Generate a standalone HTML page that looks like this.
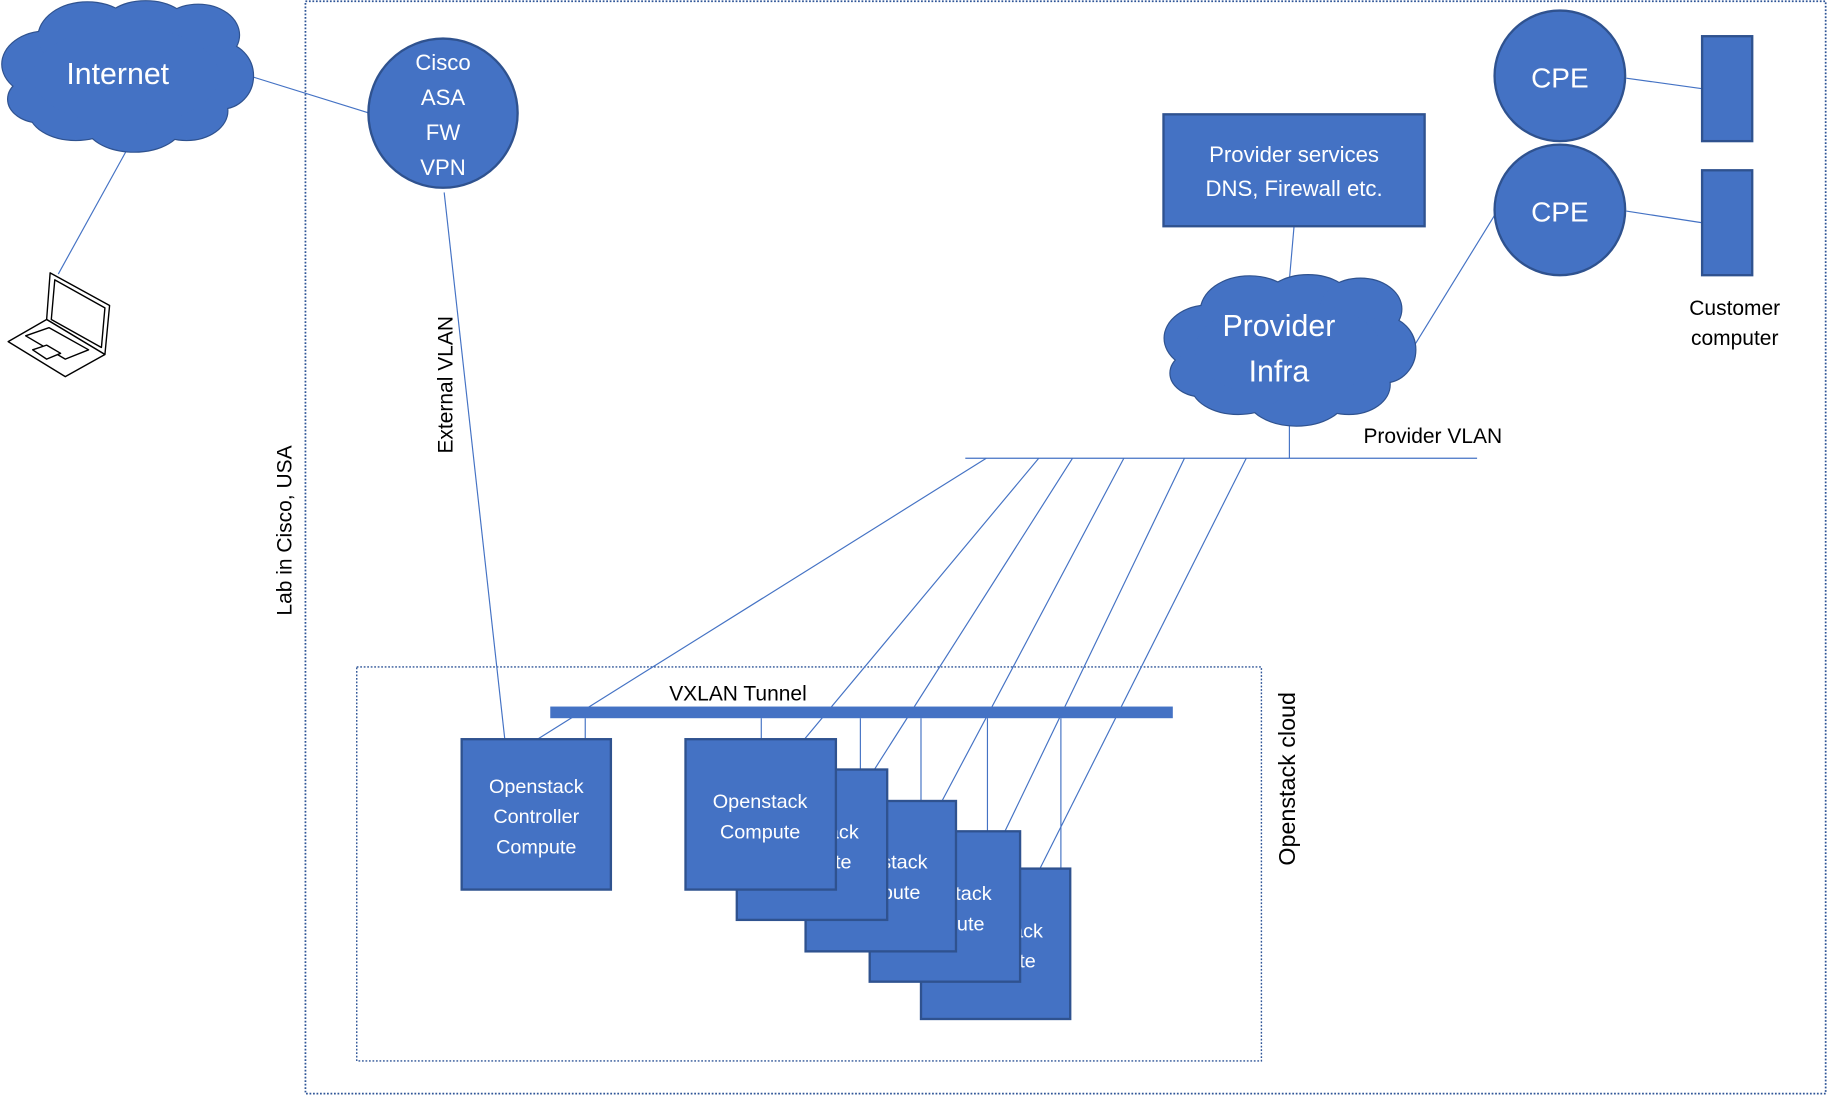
<!DOCTYPE html>
<html><head><meta charset="utf-8"><style>
html,body{margin:0;padding:0;background:#fff;}
svg{display:block;}
text{font-family:"Liberation Sans",sans-serif;}
</style></head><body>
<svg width="1828" height="1096" viewBox="0 0 1568 940" xmlns="http://www.w3.org/2000/svg">
<defs>
<g id="cloud">
<ellipse cx="40" cy="55" rx="38" ry="28"/>
<ellipse cx="75" cy="32" rx="42" ry="30"/>
<ellipse cx="125" cy="25" rx="38" ry="24"/>
<ellipse cx="170" cy="30" rx="35" ry="26"/>
<ellipse cx="190" cy="65" rx="27" ry="28"/>
<ellipse cx="160" cy="95" rx="35" ry="25"/>
<ellipse cx="115" cy="105" rx="42" ry="25"/>
<ellipse cx="65" cy="95" rx="40" ry="25"/>
<ellipse cx="35" cy="85" rx="28" ry="20"/>
<ellipse cx="108" cy="65" rx="80" ry="42"/>
</g>
</defs>
<rect x="262" y="1" width="1304" height="937" fill="none" stroke="#2F5597" stroke-width="1.5" stroke-dasharray="1.5,1.5"/>
<rect x="306" y="572" width="776" height="338" fill="none" stroke="#2F5597" stroke-width="1.2" stroke-dasharray="1.5,1.5"/>

<g stroke="#4472C4" stroke-width="1" fill="none">
<line x1="217" y1="66" x2="317" y2="97"/>
<line x1="108" y1="130" x2="50" y2="235"/>
<line x1="381" y1="165" x2="433" y2="634"/>
<line x1="1110" y1="194" x2="1106" y2="240"/>
<line x1="1214" y1="295" x2="1283" y2="183"/>
<line x1="1395" y1="67" x2="1460" y2="76"/>
<line x1="1395" y1="181" x2="1460" y2="191"/>
<line x1="1106" y1="365" x2="1106" y2="393"/>
<line x1="828" y1="393" x2="1267" y2="393"/>
<line x1="846" y1="393" x2="461" y2="634"/>
<line x1="891" y1="393" x2="690" y2="634"/>
<line x1="920" y1="393" x2="750" y2="660"/>
<line x1="964" y1="393" x2="808" y2="687"/>
<line x1="1016" y1="393" x2="862" y2="713"/>
<line x1="1069" y1="393" x2="892" y2="745"/>
<line x1="502" y1="616" x2="502" y2="634"/>
<line x1="653" y1="616" x2="653" y2="634"/>
<line x1="738" y1="616" x2="738" y2="660"/>
<line x1="790" y1="616" x2="790" y2="687"/>
<line x1="847" y1="616" x2="847" y2="713"/>
<line x1="910" y1="616" x2="910" y2="745"/>
</g>

<g>
<use href="#cloud" fill="#4472C4" stroke="#2F528F" stroke-width="2"/>
<use href="#cloud" fill="#4472C4" stroke="none"/>
<text x="101" y="72" font-size="26" fill="#fff" text-anchor="middle">Internet</text>
</g>
<g transform="translate(997,235)">
<use href="#cloud" fill="#4472C4" stroke="#2F528F" stroke-width="2"/>
<use href="#cloud" fill="#4472C4" stroke="none"/>
<text x="100" y="53" font-size="26" fill="#fff" text-anchor="middle">Provider</text>
<text x="100" y="92" font-size="26" fill="#fff" text-anchor="middle">Infra</text>
</g>

<!-- laptop -->
<g fill="#fff" stroke="#000" stroke-width="1.2" stroke-linejoin="round">
<polygon points="43,234 94,262 90,304 40,274"/>
<polygon points="47,240 90,264 87,298 44,274"/>
<polygon points="40,274 90,304 56,323 7,293"/>
<polygon points="22,288 42,281 76,300 56,308"/>
<polygon points="28,300 40,296 52,303 40,308"/>
</g>

<circle cx="380" cy="97" r="64" fill="#4472C4" stroke="#2F528F" stroke-width="2"/>
<g font-size="19" fill="#fff" text-anchor="middle">
<text x="380" y="60">Cisco</text><text x="380" y="90">ASA</text><text x="380" y="120">FW</text><text x="380" y="150">VPN</text>
</g>

<rect x="998" y="98" width="224" height="96" fill="#4472C4" stroke="#2F528F" stroke-width="2"/>
<text x="1110" y="139" font-size="19" fill="#fff" text-anchor="middle">Provider services</text>
<text x="1110" y="168" font-size="19" fill="#fff" text-anchor="middle">DNS, Firewall etc.</text>

<circle cx="1338" cy="65" r="56" fill="#4472C4" stroke="#2F528F" stroke-width="2"/>
<text x="1338" y="75" font-size="24" fill="#fff" text-anchor="middle">CPE</text>
<circle cx="1338" cy="180" r="56" fill="#4472C4" stroke="#2F528F" stroke-width="2"/>
<text x="1338" y="190" font-size="24" fill="#fff" text-anchor="middle">CPE</text>
<rect x="1460" y="31" width="43" height="90" fill="#4472C4" stroke="#2F528F" stroke-width="2"/>
<rect x="1460" y="146" width="43" height="90" fill="#4472C4" stroke="#2F528F" stroke-width="2"/>
<text x="1488" y="270" font-size="18" fill="#000" text-anchor="middle">Customer</text>
<text x="1488" y="296" font-size="18" fill="#000" text-anchor="middle">computer</text>

<text x="1229" y="380" font-size="18" fill="#000" text-anchor="middle">Provider VLAN</text>
<text transform="translate(388,330) rotate(-90)" font-size="18" fill="#000" text-anchor="middle">External VLAN</text>
<text transform="translate(250,455) rotate(-90)" font-size="18" fill="#000" text-anchor="middle">Lab in Cisco, USA</text>
<text transform="translate(1111,668) rotate(-90)" font-size="20" fill="#000" text-anchor="middle">Openstack cloud</text>

<rect x="472" y="606" width="534" height="10" fill="#4472C4"/>
<text x="633" y="601" font-size="18" fill="#000" text-anchor="middle">VXLAN Tunnel</text>

<rect x="396" y="634" width="128" height="129" fill="#4472C4" stroke="#2F528F" stroke-width="2"/>
<g font-size="17" fill="#fff" text-anchor="middle">
<text x="460" y="680">Openstack</text><text x="460" y="706">Controller</text><text x="460" y="732">Compute</text>
</g>

<rect x="790" y="745" width="128" height="129" fill="#4472C4" stroke="#2F528F" stroke-width="2"/>
<g font-size="17" fill="#fff" text-anchor="middle"><text x="854" y="804">Openstack</text><text x="854" y="830">Compute</text></g>
<rect x="746" y="713" width="129" height="129" fill="#4472C4" stroke="#2F528F" stroke-width="2"/>
<g font-size="17" fill="#fff" text-anchor="middle"><text x="810" y="772">Openstack</text><text x="810" y="798">Compute</text></g>
<rect x="691" y="687" width="129" height="129" fill="#4472C4" stroke="#2F528F" stroke-width="2"/>
<g font-size="17" fill="#fff" text-anchor="middle"><text x="755" y="745">Openstack</text><text x="755" y="771">Compute</text></g>
<rect x="632" y="660" width="129" height="129" fill="#4472C4" stroke="#2F528F" stroke-width="2"/>
<g font-size="17" fill="#fff" text-anchor="middle"><text x="696" y="719">Openstack</text><text x="696" y="745">Compute</text></g>
<rect x="588" y="634" width="129" height="129" fill="#4472C4" stroke="#2F528F" stroke-width="2"/>
<g font-size="17" fill="#fff" text-anchor="middle"><text x="652" y="693">Openstack</text><text x="652" y="719">Compute</text></g>
</svg>
</body></html>
